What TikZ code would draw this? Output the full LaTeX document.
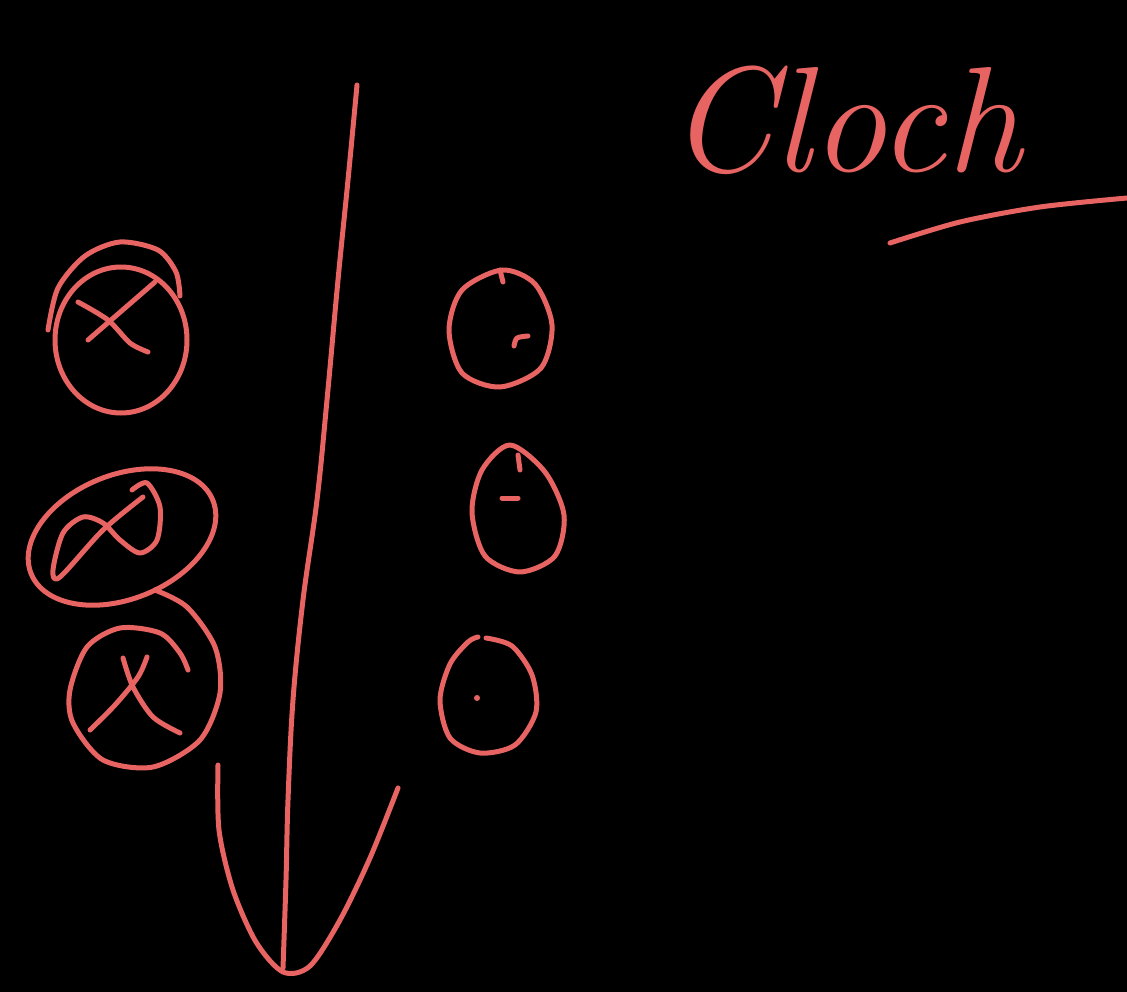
\documentclass[tikz,border=0pt]{standalone}
\definecolor{ink}{RGB}{232,100,98}
\tikzset{
  pen/.style={draw=ink, line width=5pt, line cap=round, line join=round},
  handtext/.style={text=ink, inner sep=0pt, font=\fontsize{150}{150}\selectfont\itshape}
}
\begin{document}
\begin{tikzpicture}[x=1pt,y=-1pt]
  % canvas
  \fill[black] (0,0) rectangle (1127,992);
  \useasboundingbox (0,0) rectangle (1127,992);

  % long stroke down the middle
  \draw[pen] plot[smooth, tension=0.6] coordinates {(357,85) (348,180) (338,280) (327,400) (317,500) (303,600) (293,700) (288,800) (286,880) (283,968)};
  % the cup at the bottom
  \draw[pen] plot[smooth] coordinates {(218,765) (219,830) (233,890) (256,942) (283,972) (310,966) (340,920) (370,858) (398,788)};

  % left column, first ring with its crossed mark
  \draw[pen] (121,340) ellipse [x radius=66, y radius=73];
  \draw[pen] plot[smooth] coordinates {(48,330) (58,288) (85,256) (120,242) (158,250) (176,272) (180,296)};
  \draw[pen] (88,340) -- (155,282);
  \draw[pen] plot[smooth] coordinates {(78,302) (108,320) (130,343) (148,352)};

  % second ring, tilted, running on into the third ring
  \draw[pen, rotate around={22:(122,537)}] (122,537) ellipse [x radius=98, y radius=62];
  \draw[pen] plot[smooth] coordinates {(132,490) (147,483) (160,507) (157,540) (140,553) (120,540) (103,523) (83,517) (63,533) (53,570) (60,577) (103,530) (143,497)};
  \draw[pen] plot[smooth] coordinates {(155,590) (187,607) (215,647) (220,693) (200,740) (153,767) (103,760) (73,723) (70,690) (87,647) (120,628) (160,633) (180,653) (188,670)};
  \draw[pen] plot[smooth] coordinates {(123,658) (133,687) (153,717) (180,733)};
  \draw[pen] plot[smooth] coordinates {(147,657) (138,677) (115,705) (90,730)};

  % right column of small rings
  \draw[pen] plot[smooth cycle] coordinates {(502,270) (535,284) (552,325) (541,368) (500,387) (462,373) (449,330) (462,290)};
  \draw[pen] (500,270) -- (503,282);
  \draw[pen] plot[smooth] coordinates {(514,346) (517,338) (528,336)};

  \draw[pen] plot[smooth cycle] coordinates {(510,445) (545,472) (564,515) (555,556) (520,572) (485,556) (472,512) (482,470)};
  \draw[pen] (518,455) -- (520,470);
  \draw[pen] (502,498) -- (518,498);

  \draw[pen] plot[smooth] coordinates {(486,638) (512,646) (532,675) (536,712) (515,745) (480,753) (450,738) (440,700) (450,664) (468,642) (478,637)};
  \fill[ink] (477,698) circle (3);

  % title and its underline
  \node[handtext] (title) at (845,120) {Cloch};
  \draw[pen] plot[smooth] coordinates {(890,243) (960,222) (1040,207) (1127,198)};
\end{tikzpicture}
\end{document}
